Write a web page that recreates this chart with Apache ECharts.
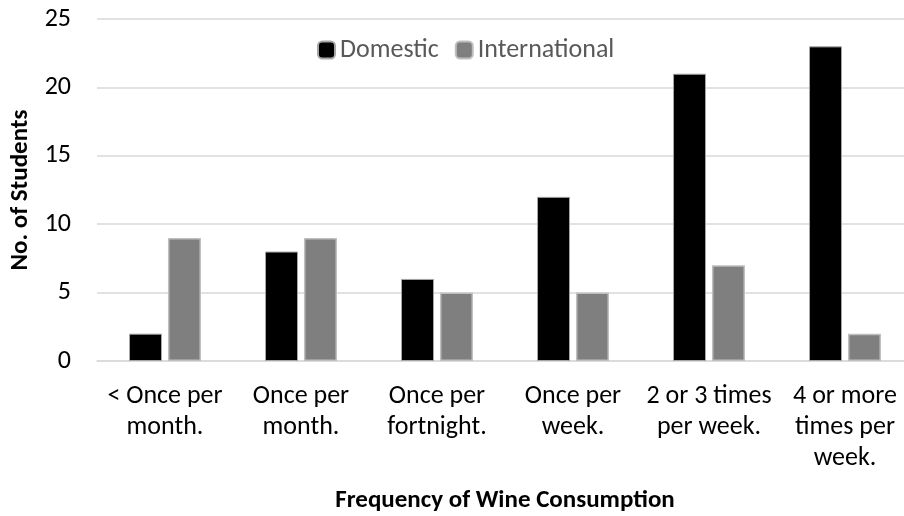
<!DOCTYPE html>
<html><head><meta charset="utf-8">
<script src="https://cdn.jsdelivr.net/npm/echarts@6/dist/echarts.min.js"></script>
<style>html,body{margin:0;padding:0;background:#fff}#c{width:904px;height:516px}</style>
</head><body><div id="c"></div>
<script>
const categories = ['< Once per\nmonth.', 'Once per\nmonth.', 'Once per\nfortnight.', 'Once per\nweek.', '2 or 3 times\nper week.', '4 or more\ntimes per\nweek.'];
const domestic = [2, 8, 6, 12, 21, 23];
const international = [9, 9, 5, 5, 7, 2];
const yTicks = [0, 5, 10, 15, 20, 25];

const font = 'Carlito, "Open Sans", "Liberation Sans", sans-serif';
const chart = echarts.init(document.getElementById('c'), null, {renderer: 'canvas'});
chart.setOption({
  animation: false,
  backgroundColor: '#fff',
  grid: {left: 97, width: 816, top: 19, bottom: 155, outerBoundsMode: 'none', containLabel: false},
  legend: {
    top: 32, left: 312,
    itemWidth: 17, itemHeight: 17, itemGap: 16,
    textStyle: {fontFamily: font, fontSize: 26, color: '#595959'},
    data: ['Domestic', 'International']
  },
  xAxis: {
    type: 'category', data: categories,
    axisLine: {lineStyle: {color: '#d9d9d9', width: 1.5}},
    axisTick: {show: false},
    axisLabel: {fontFamily: font, fontSize: 26, color: '#000', lineHeight: 31, margin: 20, interval: 0},
    name: 'Frequency of Wine Consumption', nameLocation: 'middle', nameGap: 127,
    nameTextStyle: {fontFamily: font, fontSize: 25, fontWeight: 'bold', color: '#000'}
  },
  yAxis: {
    type: 'value', min: yTicks[0], max: yTicks[yTicks.length - 1], interval: 5,
    splitLine: {lineStyle: {color: '#d9d9d9', width: 1.5}},
    axisLine: {show: false}, axisTick: {show: false},
    axisLabel: {fontFamily: font, fontSize: 26, color: '#000', margin: 26},
    name: 'No. of Students', nameLocation: 'middle', nameGap: 59, nameRotate: 90,
    nameTextStyle: {fontFamily: font, fontSize: 25, fontWeight: 'bold', color: '#000'}
  },
  series: [
    {name: 'Domestic', type: 'bar', data: domestic, barWidth: 33, barGap: '18%',
     itemStyle: {color: '#000', borderColor: '#a6a6a6', borderWidth: 1}},
    {name: 'International', type: 'bar', data: international, barWidth: 33,
     itemStyle: {color: '#7f7f7f', borderColor: '#bfbfbf', borderWidth: 1.5}}
  ]
});
</script></body></html>
